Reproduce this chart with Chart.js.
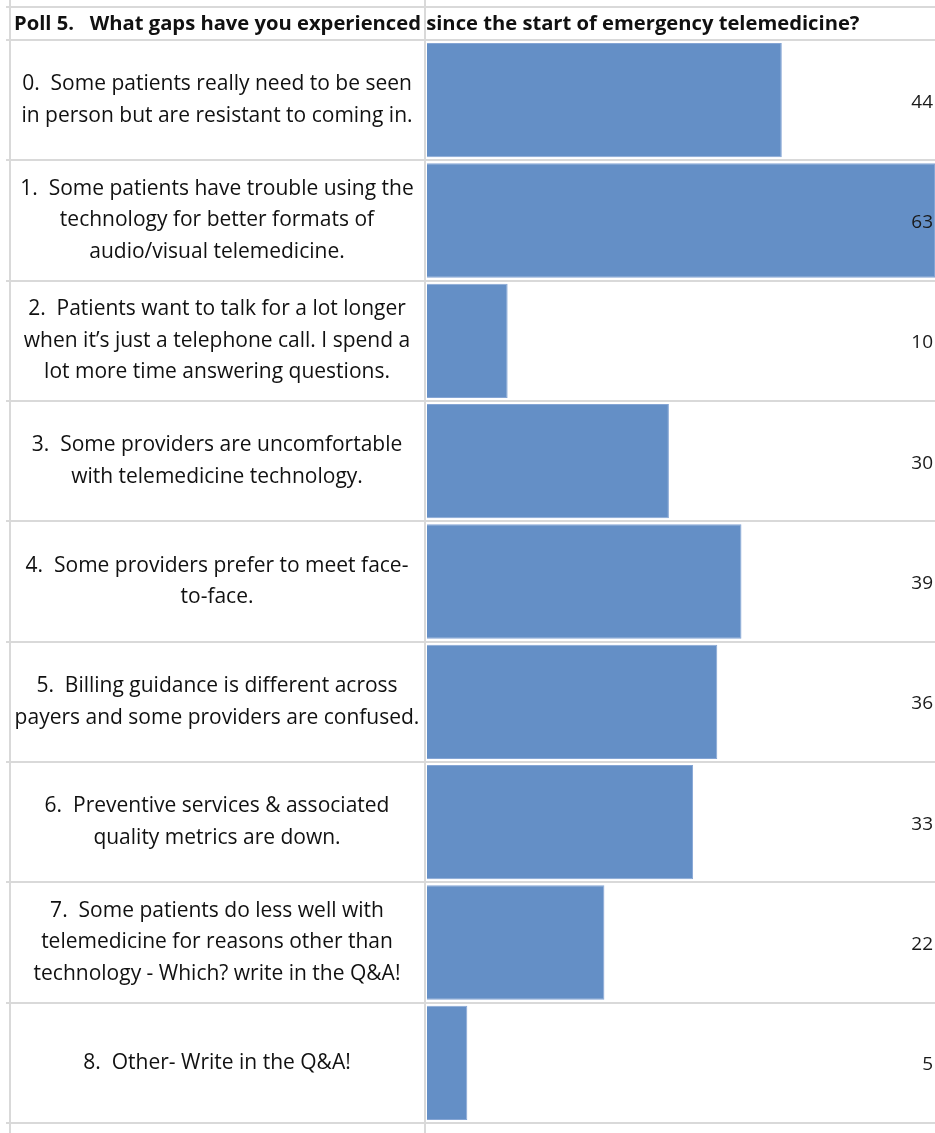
<!DOCTYPE html>
<html>
<head>
<meta charset="utf-8">
<script src="https://cdn.jsdelivr.net/npm/chart.js@4.4.1/dist/chart.umd.min.js"></script>
<style>
html,body{margin:0;padding:0;background:#fff;}
#wrap{width:935px;height:1133px;position:relative;}
</style>
</head>
<body>
<div id="wrap"><canvas id="c" width="935" height="1133"></canvas></div>
<script>
const titleText = "Poll 5.   What gaps have you experienced since the start of emergency telemedicine?";
const categories = [
  ["0.  Some patients really need to be seen", "in person but are resistant to coming in."],
  ["1.  Some patients have trouble using the", "technology for better formats of", "audio/visual telemedicine."],
  ["2.  Patients want to talk for a lot longer", "when it\u2019s just a telephone call. I spend a", "lot more time answering questions."],
  ["3.  Some providers are uncomfortable", "with telemedicine technology."],
  ["4.  Some providers prefer to meet face-", "to-face."],
  ["5.  Billing guidance is different across", "payers and some providers are confused."],
  ["6.  Preventive services & associated", "quality metrics are down."],
  ["7.  Some patients do less well with", "telemedicine for reasons other than", "technology - Which? write in the Q&A!"],
  ["8.  Other- Write in the Q&A!"]
];
const votes = [44, 63, 10, 30, 39, 36, 33, 22, 5];

const FONT = "'Open Sans'";
const LABEL_SIZE = 21;
const AXIS_WIDTH = 418;
const LABEL_CENTER = 217;

const mctx = document.createElement('canvas').getContext('2d');
mctx.font = LABEL_SIZE + "px " + FONT;
let widest = 0;
categories.forEach(lines => lines.forEach(l => { widest = Math.max(widest, mctx.measureText(l).width); }));
const labelPadding = (9 + AXIS_WIDTH) - LABEL_CENTER - widest / 2;

const sheetGrid = {
  id: 'sheetGrid',
  beforeDatasetsDraw(chart) {
    const ctx = chart.ctx, y = chart.scales.y, area = chart.chartArea;
    const n = categories.length;
    const step = y.getPixelForValue(1) - y.getPixelForValue(0);
    ctx.save();
    ctx.strokeStyle = '#d9d9d9';
    ctx.lineWidth = 2;
    ctx.beginPath();
    const ys = [7];
    for (let i = 0; i < n; i++) ys.push(y.getPixelForValue(i) - step / 2);
    ys.push(y.getPixelForValue(n - 1) + step / 2);
    ys.forEach(py => { ctx.moveTo(6, Math.round(py)); ctx.lineTo(chart.width, Math.round(py)); });
    ctx.moveTo(10, 0); ctx.lineTo(10, chart.height);
    ctx.moveTo(area.left - 2, 0); ctx.lineTo(area.left - 2, chart.height);
    ctx.stroke();
    ctx.fillStyle = '#111';
    ctx.font = "bold 20.2px " + FONT;
    ctx.textBaseline = 'middle';
    ctx.textAlign = 'left';
    ctx.fillText(titleText, 14, 24);
    ctx.restore();
  },
  afterDatasetsDraw(chart) {
    const ctx = chart.ctx;
    const meta = chart.getDatasetMeta(0);
    ctx.save();
    ctx.fillStyle = '#1a1a1a';
    ctx.font = "19px " + FONT;
    ctx.textAlign = 'right';
    ctx.textBaseline = 'middle';
    meta.data.forEach((bar, i) => {
      ctx.fillText(String(votes[i]), chart.chartArea.right - 2, bar.y + 2);
    });
    ctx.restore();
  }
};

new Chart(document.getElementById('c'), {
  type: 'bar',
  data: {
    labels: categories,
    datasets: [{
      data: votes,
      backgroundColor: '#648fc6',
      borderColor: '#85a5d4',
      borderWidth: 1,
      barPercentage: 0.95,
      categoryPercentage: 1.0
    }]
  },
  options: {
    indexAxis: 'y',
    responsive: false,
    animation: false,
    devicePixelRatio: 1,
    layout: { padding: { left: 9, top: 40, right: 0, bottom: 10 } },
    plugins: { legend: { display: false }, tooltip: { enabled: false }, title: { display: false } },
    scales: {
      x: { display: false, min: 0, max: 63 },
      y: {
        grid: { display: false, drawTicks: false },
        border: { display: false },
        ticks: {
          autoSkip: false,
          crossAlign: 'center',
          padding: labelPadding,
          color: '#111',
          font: { family: FONT, size: LABEL_SIZE, lineHeight: 1.5 }
        },
        afterFit(scale) {
          scale.width = AXIS_WIDTH;
          scale.paddingTop = 0;
          scale.paddingBottom = 0;
        }
      }
    }
  },
  plugins: [sheetGrid]
});
</script>
</body>
</html>
